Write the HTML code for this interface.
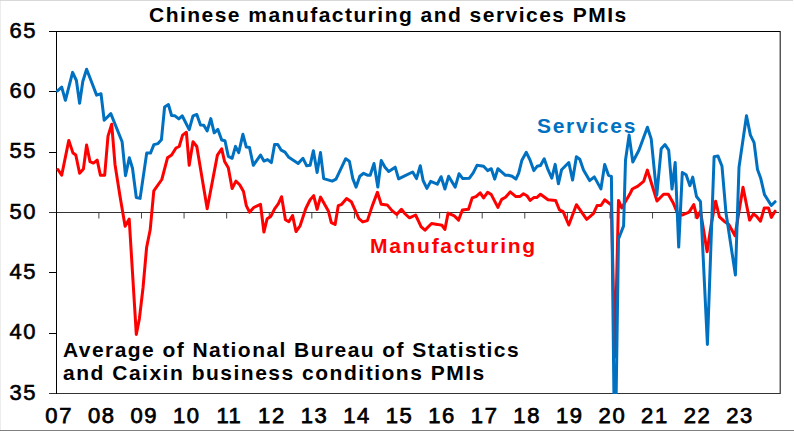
<!DOCTYPE html>
<html><head><meta charset="utf-8">
<style>
html,body{margin:0;padding:0;background:#fff;}
body{width:794px;height:431px;overflow:hidden;position:relative;}
svg{position:absolute;left:0;top:0;}
text{font-family:"Liberation Sans",sans-serif;font-weight:bold;}
.yl{font-size:22px;font-weight:normal;letter-spacing:1.5px;stroke:#000;stroke-width:0.6px;}
.xl{font-size:22px;font-weight:normal;letter-spacing:1.6px;stroke:#000;stroke-width:0.75px;}
.t{font-size:21px;letter-spacing:1.47px;}
</style></head><body>
<svg width="794" height="431" viewBox="0 0 794 431">
<rect x="0" y="0" width="1" height="430" fill="#ececec"/>
<rect x="0" y="0" width="793" height="1" fill="#d8d8d8"/>
<rect x="0" y="430" width="794" height="1" fill="#808080"/>
<text x="149" y="22" class="t">Chinese manufacturing and services PMIs</text>
<text x="37" y="37.7" text-anchor="end" class="yl">65</text>
<text x="37" y="98.0" text-anchor="end" class="yl">60</text>
<text x="37" y="158.4" text-anchor="end" class="yl">55</text>
<text x="37" y="218.7" text-anchor="end" class="yl">50</text>
<text x="37" y="279.0" text-anchor="end" class="yl">45</text>
<text x="37" y="339.4" text-anchor="end" class="yl">40</text>
<text x="37" y="399.7" text-anchor="end" class="yl">35</text>

<g shape-rendering="crispEdges">
<line x1="49" y1="31.5" x2="780" y2="31.5" stroke="#000" stroke-width="1"/>
<line x1="49" y1="393.5" x2="780" y2="393.5" stroke="#333" stroke-width="1"/>
<line x1="49" y1="212.5" x2="780" y2="212.5" stroke="#333" stroke-width="1"/>
<line x1="56.5" y1="31" x2="56.5" y2="394" stroke="#000" stroke-width="1"/>
<line x1="779.5" y1="32" x2="779.5" y2="393" stroke="#b0b0b0" stroke-width="1"/>
<line x1="780.5" y1="31" x2="780.5" y2="394" stroke="#555" stroke-width="1"/>
<line x1="49" y1="91.5" x2="56" y2="91.5" stroke="#000" stroke-width="1"/>
<line x1="49" y1="152.5" x2="56" y2="152.5" stroke="#000" stroke-width="1"/>
<line x1="49" y1="272.5" x2="56" y2="272.5" stroke="#000" stroke-width="1"/>
<line x1="49" y1="333.5" x2="56" y2="333.5" stroke="#000" stroke-width="1"/>

</g>
<line x1="98.89" y1="213" x2="98.89" y2="218.5" stroke="#444" stroke-width="1"/>
<line x1="141.48" y1="213" x2="141.48" y2="218.5" stroke="#444" stroke-width="1"/>
<line x1="184.07" y1="213" x2="184.07" y2="218.5" stroke="#444" stroke-width="1"/>
<line x1="226.66" y1="213" x2="226.66" y2="218.5" stroke="#444" stroke-width="1"/>
<line x1="269.25" y1="213" x2="269.25" y2="218.5" stroke="#444" stroke-width="1"/>
<line x1="311.84" y1="213" x2="311.84" y2="218.5" stroke="#444" stroke-width="1"/>
<line x1="354.43" y1="213" x2="354.43" y2="218.5" stroke="#444" stroke-width="1"/>
<line x1="397.02" y1="213" x2="397.02" y2="218.5" stroke="#444" stroke-width="1"/>
<line x1="439.61" y1="213" x2="439.61" y2="218.5" stroke="#444" stroke-width="1"/>
<line x1="482.20" y1="213" x2="482.20" y2="218.5" stroke="#444" stroke-width="1"/>
<line x1="524.79" y1="213" x2="524.79" y2="218.5" stroke="#444" stroke-width="1"/>
<line x1="567.38" y1="213" x2="567.38" y2="218.5" stroke="#444" stroke-width="1"/>
<line x1="609.97" y1="213" x2="609.97" y2="218.5" stroke="#444" stroke-width="1"/>
<line x1="652.56" y1="213" x2="652.56" y2="218.5" stroke="#444" stroke-width="1"/>
<line x1="695.15" y1="213" x2="695.15" y2="218.5" stroke="#444" stroke-width="1"/>
<line x1="737.74" y1="213" x2="737.74" y2="218.5" stroke="#444" stroke-width="1"/>

<text x="59.2" y="422.5" text-anchor="middle" class="xl">07</text>
<text x="101.8" y="422.5" text-anchor="middle" class="xl">08</text>
<text x="144.3" y="422.5" text-anchor="middle" class="xl">09</text>
<text x="186.8" y="422.5" text-anchor="middle" class="xl">10</text>
<text x="229.4" y="422.5" text-anchor="middle" class="xl">11</text>
<text x="271.9" y="422.5" text-anchor="middle" class="xl">12</text>
<text x="314.5" y="422.5" text-anchor="middle" class="xl">13</text>
<text x="357.0" y="422.5" text-anchor="middle" class="xl">14</text>
<text x="399.6" y="422.5" text-anchor="middle" class="xl">15</text>
<text x="442.1" y="422.5" text-anchor="middle" class="xl">16</text>
<text x="484.7" y="422.5" text-anchor="middle" class="xl">17</text>
<text x="527.2" y="422.5" text-anchor="middle" class="xl">18</text>
<text x="569.8" y="422.5" text-anchor="middle" class="xl">19</text>
<text x="612.4" y="422.5" text-anchor="middle" class="xl">20</text>
<text x="654.9" y="422.5" text-anchor="middle" class="xl">21</text>
<text x="697.5" y="422.5" text-anchor="middle" class="xl">22</text>
<text x="740.0" y="422.5" text-anchor="middle" class="xl">23</text>

<text x="63" y="357" class="t" style="letter-spacing:1.44px">Average of National Bureau of Statistics</text>
<text x="63" y="379.5" class="t" style="letter-spacing:1.51px">and Caixin business conditions PMIs</text>
<text x="537" y="132.5" class="t" style="letter-spacing:1.7px" fill="#0070c0">Services</text>
<text x="370" y="252.5" class="t" style="letter-spacing:1.7px" fill="#ff0000">Manufacturing</text>
<svg x="56" y="31" width="725" height="363" viewBox="56 31 725 363" overflow="hidden">
<polyline points="57.9,169.5 61.7,175.2 68.8,140.4 73.0,153.1 75.8,155.0 79.6,173.3 83.4,169.1 86.6,145.0 90.0,161.6 93.4,163.1 97.2,160.1 100.4,175.2 104.7,175.2 108.0,136.1 111.7,124.2 115.0,164.4 119.8,195.0 125.1,226.3 129.2,219.0 136.3,334.4 139.4,318.7 143.0,288.0 146.6,247.5 150.2,229.8 153.8,190.8 161.8,179.5 167.5,157.8 171.6,155.0 176.0,148.0 179.2,146.5 182.6,135.1 186.4,132.3 189.2,165.3 193.0,141.7 196.8,146.5 207.2,208.8 217.4,155.1 221.7,148.8 224.6,161.5 228.3,167.7 232.1,188.6 235.9,181.1 239.7,184.8 243.5,191.5 246.3,205.6 249.5,212.2 253.8,207.5 260.5,204.3 263.9,232.1 267.1,218.8 270.8,216.4 274.6,208.8 278.4,203.7 281.6,196.7 285.4,219.8 288.8,221.7 292.6,215.6 296.0,231.5 300.1,225.8 305.8,208.5 310.0,200.0 313.7,195.6 317.1,209.4 320.5,197.1 328.5,211.3 331.3,222.6 335.1,224.5 338.3,205.6 341.7,204.3 346.6,198.5 351.3,201.7 355.1,210.2 358.9,218.7 362.7,221.9 367.4,220.6 372.1,206.4 377.4,192.3 381.2,204.2 387.2,204.9 392.0,210.6 396.7,214.4 401.4,209.3 405.2,214.0 409.5,217.8 415.6,215.0 421.2,226.9 425.0,230.1 431.6,223.5 437.3,224.4 442.0,225.3 444.9,229.5 448.1,213.1 454.3,215.9 458.6,220.1 462.4,209.9 468.5,209.3 472.2,197.9 476.0,196.6 480.2,192.8 483.6,197.9 487.6,192.3 491.3,194.6 497.9,207.4 501.7,199.4 505.5,197.2 510.2,191.9 515.9,196.6 519.7,196.6 523.5,193.8 526.9,195.7 530.1,200.4 533.8,197.6 536.7,197.6 540.5,194.2 548.0,199.8 555.6,200.4 559.4,209.8 563.1,211.7 568.8,225.0 576.4,204.7 586.7,219.3 593.4,213.6 597.1,205.5 600.9,205.5 604.7,199.8 611.4,205.0 614.9,357.0 618.5,200.4 621.7,207.9 630.0,193.8 632.3,189.0 637.9,186.1 643.6,181.4 647.4,170.1 652.1,185.2 657.0,201.0 663.6,194.2 668.3,194.2 673.1,202.7 677.8,214.0 682.5,215.0 689.1,212.1 693.8,204.6 697.1,217.8 700.5,211.2 707.1,251.8 711.4,223.5 715.6,201.2 719.4,216.8 724.1,221.2 728.8,224.4 735.0,235.7 743.0,187.2 749.6,220.1 753.4,214.0 756.2,215.9 760.5,221.2 764.3,208.0 768.5,208.0 771.3,217.4 775.1,211.2" fill="none" stroke="#ff0000" stroke-width="3" stroke-linejoin="round" stroke-linecap="round"/>
<polyline points="57.5,90.9 61.7,87.1 65.4,100.3 72.6,72.4 76.4,80.5 79.6,103.2 82.8,81.5 86.6,69.2 91.0,80.5 96.6,95.1 101.0,93.7 104.2,120.2 110.8,113.6 122.1,141.7 125.5,175.7 129.3,157.8 132.5,168.2 136.3,197.5 140.1,198.4 146.7,153.1 150.5,153.1 153.9,144.6 158.0,143.6 161.4,139.8 164.6,107.0 168.4,104.5 171.6,115.5 175.0,115.8 178.8,118.9 182.2,115.8 189.2,129.6 193.0,115.8 196.8,114.5 200.5,124.9 203.8,125.2 207.2,130.9 210.8,118.6 214.2,132.8 217.9,129.4 221.7,140.0 225.0,140.7 228.3,156.4 232.1,158.3 235.5,146.4 238.7,152.6 242.9,134.3 246.3,147.0 249.5,147.5 253.3,165.3 260.5,155.1 263.9,161.1 267.6,159.6 271.4,162.6 274.6,144.5 277.8,144.5 281.2,150.2 285.0,152.1 288.8,157.3 298.2,163.4 303.0,158.3 306.7,165.8 310.1,165.3 313.4,150.7 317.1,172.6 320.5,152.6 323.7,178.6 332.2,181.1 336.0,179.2 345.7,158.7 349.4,161.2 352.8,178.6 356.1,187.1 359.8,176.3 363.6,173.3 367.4,175.2 370.2,175.2 374.0,163.5 377.8,187.1 381.2,160.6 385.0,167.2 388.7,171.4 395.2,167.2 398.6,178.9 405.2,175.7 412.7,172.0 416.5,178.6 420.3,165.7 423.1,180.5 426.9,188.4 430.7,181.4 437.3,184.2 441.1,176.7 444.9,189.0 448.6,176.3 455.2,187.1 459.0,173.8 462.8,178.6 469.4,178.2 473.2,172.9 477.0,165.3 483.6,166.3 487.6,170.6 491.3,168.7 494.7,179.1 497.9,168.7 505.5,175.3 508.3,175.3 512.1,176.3 515.9,179.1 518.7,173.1 521.9,160.2 526.3,152.3 530.1,160.2 533.8,170.6 537.1,166.3 540.5,165.5 544.2,158.7 548.0,169.7 551.8,178.2 555.2,164.4 558.4,183.8 561.6,169.7 568.8,162.5 572.6,180.1 576.4,156.8 579.8,159.3 583.5,170.1 589.6,180.6 594.3,176.9 600.9,188.9 604.7,164.4 608.5,175.3 611.4,176.3 614.9,478.0 618.5,239.0 623.6,225.9 625.5,160.2 629.1,135.1 632.8,162.0 638.9,150.2 647.4,127.2 651.2,138.9 656.8,195.2 661.2,148.7 665.0,144.6 668.7,150.2 672.0,189.0 675.2,162.5 678.7,247.1 682.3,172.5 686.1,174.8 689.9,185.7 692.7,177.1 696.5,196.5 700.5,201.7 707.4,344.4 714.1,156.8 717.9,155.9 722.0,166.3 726.0,213.1 735.4,275.0 739.0,167.2 746.5,115.8 750.4,135.1 754.1,142.7 757.5,169.5 760.8,178.6 764.5,194.6 771.3,205.5 775.1,201.7" fill="none" stroke="#0070c0" stroke-width="3" stroke-linejoin="round" stroke-linecap="round"/>
</svg>
</svg>
</body></html>
